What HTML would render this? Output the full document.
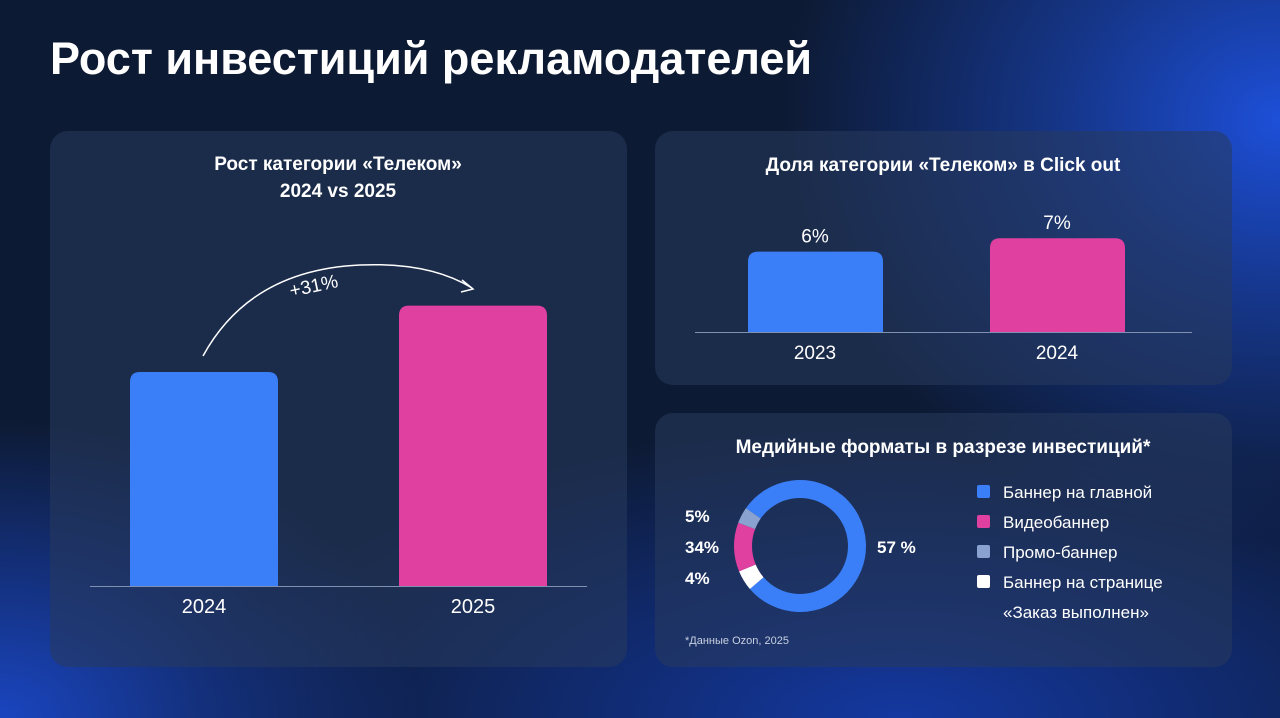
<!DOCTYPE html>
<html><head><meta charset="utf-8"><style>
body{margin:0;width:1280px;height:718px;overflow:hidden;font-family:"Liberation Sans",sans-serif;color:#fff;
background:radial-gradient(ellipse 500px 420px at 1280px 120px,#1d4fd8 0%,rgba(29,79,216,0.5) 45%,rgba(10,24,60,0) 100%),radial-gradient(ellipse 420px 300px at 0px 718px,#1a45c0 0%,rgba(10,24,60,0) 100%),radial-gradient(ellipse 700px 300px at 900px 718px,#1438a0 0%,rgba(10,24,60,0) 100%),#0d1a33;}
.panel{position:absolute;background:rgba(40,58,92,0.55);border-radius:18px}
svg{position:absolute;left:0;top:0}
</style></head><body>
<div style="position:absolute;left:50px;top:33px;font-size:45px;font-weight:bold;letter-spacing:0">Рост инвестиций рекламодателей</div>
<div class="panel" style="left:50px;top:131px;width:577px;height:536px"></div>
<div class="panel" style="left:655px;top:131px;width:577px;height:254px"></div>
<div class="panel" style="left:655px;top:413px;width:577px;height:254px"></div>
<svg id="s" width="1280" height="718" font-family="Liberation Sans, sans-serif" fill="#fff">
<text x="338" y="170" text-anchor="middle" font-size="19" font-weight="bold">Рост категории «Телеком»</text>
<text x="338" y="197" text-anchor="middle" font-size="19" font-weight="bold">2024 vs 2025</text>
<text x="943" y="171" text-anchor="middle" font-size="19" font-weight="bold">Доля категории «Телеком» в Click out</text>
<text x="943" y="453" text-anchor="middle" font-size="19" font-weight="bold">Медийные форматы в разрезе инвестиций*</text>
<text x="685" y="644" font-size="11" fill="#c8d0e0">*Данные Ozon, 2025</text>
<path d="M203,356 Q250,270 360,265 Q430,262 472,288" fill="none" stroke="#fff" stroke-width="1.5"/>
<path d="M462,280 L473,289 L461,292" fill="none" stroke="#fff" stroke-width="1.5"/>
<text x="315" y="292" font-size="19" text-anchor="middle" transform="rotate(-12 315 292)">+31%</text>
<g id="g1"></g><g id="g2"></g><g id="g3"></g>
</svg>
<script>
const years1=["2024","2025"];
const growth=[100,131];
const years2=["2023","2024"];
const share=[6,7];
const shareLabels=["6%","7%"];
const formats=["Баннер на главной","Видеобаннер","Промо-баннер","Баннер на странице «Заказ выполнен»"];
const formatPct=["57 %","34%","5%","4%"];
const arcShare=[79,12,4,5];
const colors=["#3a7ff7","#e040a0","#8aa2cf","#ffffff"];
const NS="http://www.w3.org/2000/svg";
function mk(p,t,a){const e=document.createElementNS(NS,t);for(const k in a)e.setAttribute(k,a[k]);if(p)p.appendChild(e);return e;}
function bar(p,x,y,w,h,c){const r=10;return mk(p,'path',{d:`M${x},${y+h}V${y+r}Q${x},${y} ${x+r},${y}H${x+w-r}Q${x+w},${y} ${x+w},${y+r}V${y+h}Z`,fill:c});}
// chart 1
const g1=document.getElementById('g1');
const y1=v=>586-v*2.14;
years1.forEach((c,i)=>{const x=130+i*269;const b=bar(g1,x,y1(growth[i]),148,586-y1(growth[i]),colors[i]);


const t=mk(g1,'text',{x:x+74,y:613,'text-anchor':'middle','font-size':20});t.textContent=c;

});
mk(g1,'line',{x1:90,x2:587,y1:586.5,y2:586.5,stroke:'#8090b0','stroke-width':1});
// chart 2
const g2=document.getElementById('g2');
const y2=v=>332-v*13.4;
years2.forEach((c,i)=>{const x=748+i*242;const b=bar(g2,x,y2(share[i]),135,332-y2(share[i]),colors[i]);


const v=mk(g2,'text',{x:x+67,y:y2(share[i])-9,'text-anchor':'middle','font-size':19});v.textContent=shareLabels[i];


const t=mk(g2,'text',{x:x+67,y:359,'text-anchor':'middle','font-size':19});t.textContent=c;

});
mk(g2,'line',{x1:695,x2:1192,y1:332.5,y2:332.5,stroke:'#8090b0','stroke-width':1});
// donut
const g3=document.getElementById('g3');
const cx=800,cy=546,r=57,sw=18;
const tot=arcShare.reduce((s,v)=>s+v,0);
let ang=305;
const seq=[0,3,1,2];
seq.forEach(i=>{const span=arcShare[i]/tot*360;const a0=(ang-90)*Math.PI/180,a1=(ang+span-90)*Math.PI/180;
const p=mk(g3,'path',{d:`M${cx+r*Math.cos(a0)},${cy+r*Math.sin(a0)} A${r},${r} 0 ${span>180?1:0} 1 ${cx+r*Math.cos(a1)},${cy+r*Math.sin(a1)}`,fill:'none',stroke:colors[i],'stroke-width':sw});


ang+=span;});
[[877,553,0],[685,522,2],[685,553,1],[685,584,3]].forEach(([x,y,i])=>{const t=mk(g3,'text',{x:x,y:y,'font-size':17,'font-weight':'bold'});t.textContent=formatPct[i];

});
formats.forEach((f,i)=>{const y=492+i*30;const s=mk(g3,'rect',{x:977,y:y-7,width:13,height:13,rx:2,fill:colors[i]});


const t=mk(g3,'text',{x:1003,y:y+6,'font-size':17});


if(i===3){t.textContent='Баннер на странице';const t2=mk(g3,'text',{x:1003,y:y+36,'font-size':17});t2.textContent='«Заказ выполнен»';}else t.textContent=f;});
</script>
</body></html>
